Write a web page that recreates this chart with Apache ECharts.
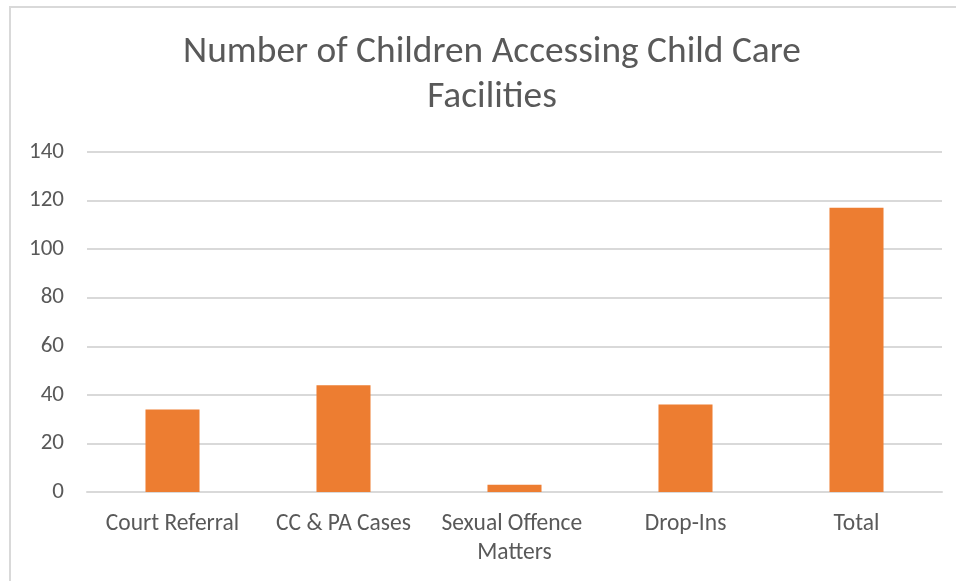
<!DOCTYPE html>
<html>
<head>
<meta charset="utf-8">
<script src="https://cdn.jsdelivr.net/npm/echarts@6/dist/echarts.min.js"></script>
<style>html,body{margin:0;padding:0;background:#fff;}#main{width:956px;height:581px;}</style>
</head>
<body>
<div id="main"></div>
<script>
const categories = ['Court Referral', 'CC & PA Cases', 'Sexual Offence Matters', 'Drop-Ins', 'Total'];
const values = [34, 44, 3, 36, 117];
const titleText = 'Number of Children Accessing Child Care\nFacilities';
const yTicks = { min: 0, max: 140, interval: 20 };

const FONT = 'Carlito, Calibri, Lato, sans-serif';
const chart = echarts.init(document.getElementById('main'));
chart.setOption({
  backgroundColor: '#fff',
  animation: false,
  graphic: [{
    type: 'rect', silent: true,
    shape: { x: 10, y: 7, width: 1000, height: 700 },
    style: { fill: 'none', stroke: '#D9D9D9', lineWidth: 2 }
  }],
  title: {
    text: titleText,
    left: 487, top: 25, textAlign: 'center',
    textStyle: { fontFamily: FONT, fontSize: 37.4, fontWeight: 'normal', color: '#595959', lineHeight: 45 }
  },
  grid: { left: 87, right: 14, top: 152, bottom: 89, containLabel: false },
  xAxis: {
    type: 'category', data: categories,
    axisLine: { lineStyle: { color: '#D9D9D9', width: 2 } },
    axisTick: { show: false },
    axisLabel: { fontFamily: FONT, fontSize: 23.5, color: '#595959', margin: 18, width: 165, overflow: 'break', lineHeight: 29, interval: 0 }
  },
  yAxis: {
    type: 'value', min: yTicks.min, max: yTicks.max, interval: yTicks.interval,
    axisLine: { show: false }, axisTick: { show: false },
    splitLine: { lineStyle: { color: '#D9D9D9', width: 2 } },
    axisLabel: { fontFamily: FONT, fontSize: 23, color: '#595959', margin: 23 }
  },
  series: [{
    type: 'bar', data: values, barWidth: '31.6%',
    itemStyle: { color: '#ED7D31' }
  }]
});
</script>
</body>
</html>
